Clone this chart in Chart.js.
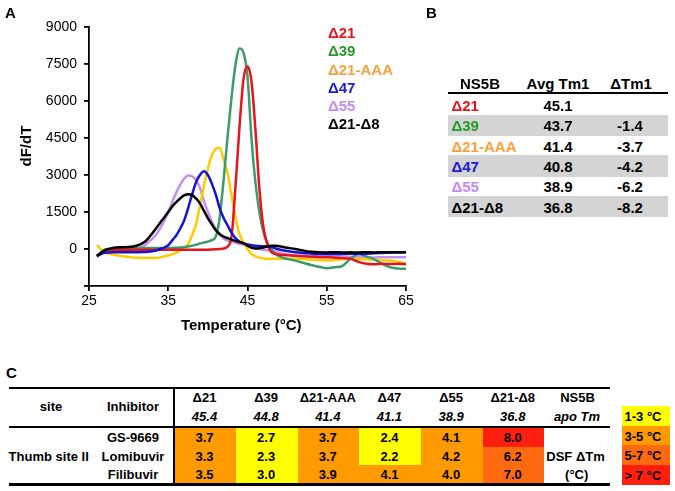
<!DOCTYPE html>
<html><head><meta charset="utf-8">
<script src="https://cdn.jsdelivr.net/npm/chart.js@4.4.1/dist/chart.umd.min.js"></script>
<style>
html,body{margin:0;padding:0;background:#fff;}
body{width:675px;height:491px;overflow:hidden;position:relative;font-family:"Liberation Sans",Arial,sans-serif;font-weight:bold;color:#000;}
.a{position:absolute;white-space:nowrap;line-height:1;}
.r{position:absolute;}
#wrap{position:absolute;left:0;top:0;width:420px;height:345px;}
</style></head><body>
<div id="wrap"><canvas id="c" width="420" height="345"></canvas></div>
<script>
// ---- Panel A data (temperature in °C, dF/dT) ----
const temps = [26,27,28,29,30,31,32,
  32.5,33,33.5,34,34.5,35,35.5,36,36.5,37,
  37.5,38,38.5,39,39.5,40,40.5,41,41.5,42,
  42.5,43,43.5,44,44.5,45,45.5,46,46.5,47,
  47.5,48,48.5,49,
  50,51,52,53,54,55,56,57,58,59,60,61,62,63,64,65];
const d21 = [-280,-80,-30,-30,-30,-30,-30,
  -30,-30,-30,-30,-30,-30,-30,-30,-30,-30,
  -30,-30,-30,-30,-30,-30,-20,-10,0,20,
  100,540,2600,5000,6900,7400,6800,4850,2450,900,
  200,-120,-200,-230,
  -250,-270,-290,-310,-330,-335,-350,-370,-400,-520,-600,-620,-600,-610,-600,-620];
const d39 = [-280,-30,30,40,40,40,40,
  40,40,40,40,40,40,40,50,60,80,
  100,135,170,220,260,300,360,500,1300,2850,
  4600,6200,7500,8130,7950,7000,4500,2700,1500,700,
  250,0,-200,-300,
  -400,-470,-560,-650,-720,-780,-740,-680,-400,-200,-300,-420,-600,-740,-790,-800];
const d21AAA = [150,-135,-220,-280,-320,-355,-365,
  -365,-365,-360,-340,-300,-260,-220,-150,-50,50,
  200,560,1000,1750,2550,3250,3800,4060,4100,3600,
  3050,2150,1250,600,270,0,-200,-300,-350,-390,
  -400,-400,-400,-400,
  -400,-400,-410,-430,-450,-470,-450,-420,-400,-400,-420,-440,-460,-470,-520,-600];
const d47 = [-270,-150,-135,-135,-135,-130,-120,
  -110,-90,-60,0,60,150,350,550,820,1150,
  1650,2200,2700,3000,3150,3000,2650,2200,1650,1250,
  950,650,430,300,230,180,150,130,120,110,
  100,80,30,-20,
  -80,-130,-160,-180,-200,-200,-200,-200,-190,-200,-190,-170,-160,-150,-140,-135];
const d55 = [-335,-100,-90,-90,-60,0,150,
  280,420,600,850,1150,1500,1900,2280,2600,2850,
  2980,2950,2800,2480,1950,1500,1100,820,620,420,
  340,300,250,200,170,150,100,50,0,-30,
  -50,-70,-100,-150,
  -220,-260,-270,-270,-270,-270,-280,-300,-320,-335,-340,-340,-335,-335,-335,-335];
const d21d8 = [-280,-50,40,70,80,130,280,
  440,640,850,1075,1280,1500,1720,1900,2050,2170,
  2220,2180,2050,1850,1550,1250,1000,760,600,500,
  440,380,320,280,240,130,50,20,30,60,
  100,130,135,110,
  50,0,-60,-110,-135,-140,-130,-140,-135,-140,-130,-140,-130,-135,-130,-135];
const seriesNames = ['Δ21','Δ39','Δ21-AAA','Δ47','Δ55','Δ21-Δ8'];
const lineColors  = ['#e8141c','#3d9b6b','#ffcc00','#1414d2','#c490f0','#000000'];
const textColors  = ['#e8141c','#259a25','#f7a23c','#1a1ad0','#c48af5','#000000'];
const yTicks = {min:-1500, max:9000, step:1500};
const xTicks = {min:25, max:65, step:10};

// ---- Panel B data ----
const bAvgTm = ['45.1','43.7','41.4','40.8','38.9','36.8'];
const bDeltaTm = ['','-1.4','-3.7','-4.2','-6.2','-8.2'];

// ---- Panel C data ----
const cApoTm = ['45.4','44.8','41.4','41.1','38.9','36.8'];
const cInhib = ['GS-9669','Lomibuvir','Filibuvir'];
const cShift = [[3.7,2.7,3.7,2.4,4.1,8.0],[3.3,2.3,3.7,2.2,4.2,6.2],[3.5,3.0,3.9,4.1,4.0,7.0]];
const cBins = ['1-3 °C','3-5 °C','5-7 °C','> 7 °C'];
const cBinColors = ['#ffff00','#ff9a00','#ff6a10','#ff1f0f'];

const F = "'Liberation Sans', Arial, sans-serif";
const allSeries = [d21,d39,d21AAA,d47,d55,d21d8];
const drawOrder = [5,3,0,1,2,4]; // first is drawn on top
const datasets = drawOrder.map(i => ({
  label: seriesNames[i],
  data: temps.map((t,k) => ({x:t, y:allSeries[i][k]})),
  borderColor: lineColors[i],
  backgroundColor: lineColors[i],
  borderWidth: 2.5,
  pointRadius: 0,
  fill: false,
  cubicInterpolationMode: 'monotone'
}));

new Chart(document.getElementById('c'), {
  type: 'line',
  data: {datasets},
  options: {
    responsive: false, animation: false,
    layout: {padding: {left:0, top:27, right:14, bottom:0}},
    plugins: {legend:{display:false}, tooltip:{enabled:false}},
    scales: {
      x: {type:'linear', min:xTicks.min, max:xTicks.max,
        ticks:{stepSize:xTicks.step, font:{size:14, family:F}, color:'#000', padding:2},
        grid:{drawOnChartArea:false, drawTicks:true, tickLength:5, color:'#000', lineWidth:1.8},
        border:{display:true, color:'#000', width:1.8},
        title:{display:true, text:'Temperature (°C)   ', color:'#000', font:{size:15, weight:'bold', family:F}, padding:{top:0, bottom:10}},
        afterFit(s){ s.height = 59; }
      },
      y: {type:'linear', min:yTicks.min, max:yTicks.max,
        ticks:{stepSize:yTicks.step, font:{size:14, family:F}, color:'#000', padding:7,
          callback: v => v === yTicks.min ? '' : String(v)},
        grid:{drawOnChartArea:false, drawTicks:true, tickLength:5, color:'#000', lineWidth:1.8},
        border:{display:true, color:'#000', width:1.8},
        title:{display:true, text:'     dF/dT', color:'#000', font:{size:15, weight:'bold', family:F}, padding:{top:18, bottom:0}},
        afterFit(s){ s.width = 89; }
      }
    }
  }
});

// ---- overlay helpers ----
function T(s, x, y, o) {
  o = o || {};
  const d = document.createElement('div');
  d.className = 'a';
  d.textContent = s;
  d.style.left = x + 'px';
  d.style.top = y + 'px';
  d.style.fontSize = (o.size || 13) + 'px';
  if (o.color) d.style.color = o.color;
  if (o.italic) d.style.fontStyle = 'italic';
  const al = o.align || 'c';
  d.style.transform = al === 'c' ? 'translate(-50%,-50%)' : (al === 'r' ? 'translate(-100%,-50%)' : 'translate(0,-50%)');
  document.body.appendChild(d);
}
function R(x, y, w, h, c) {
  const d = document.createElement('div');
  d.className = 'r';
  d.style.left = x + 'px'; d.style.top = y + 'px';
  d.style.width = w + 'px'; d.style.height = h + 'px';
  d.style.background = c;
  document.body.appendChild(d);
}

// Panel labels
T('A', 5, 12, {size:15, align:'l'});
T('B', 426, 12, {size:15, align:'l'});
T('C', 6, 372, {size:15, align:'l'});

// Panel A legend
seriesNames.forEach((n,i) => T(n, 328, 32.3 + i*18.1, {size:15, align:'l', color:textColors[i]}));

// Panel B table
const bRowY = i => 105 + i*20.35;
seriesNames.forEach((n,i) => { if (i % 2 === 1) R(448, bRowY(i)-10.6, 220, 21.2, '#d4d4d4'); });
R(448, 91.8, 220, 2.2, '#000');
T('NS5B', 480, 83, {size:15});
T('Avg Tm1', 558, 83, {size:15});
T('ΔTm1', 631, 83, {size:15});
seriesNames.forEach((n,i) => {
  T(n, 451.5, bRowY(i), {size:15, align:'l', color:textColors[i]});
  T(bAvgTm[i], 558, bRowY(i), {size:15});
  if (bDeltaTm[i]) T(bDeltaTm[i], 630, bRowY(i), {size:15});
});

// Panel C table
const colL = j => 174.5 + j*61.65;
const rowTop = 428, rowH = 18.5;
function binColor(v) { return v <= 3 ? cBinColors[0] : v <= 5 ? cBinColors[1] : v <= 7 ? cBinColors[2] : cBinColors[3]; }
cShift.forEach((row,r) => row.forEach((v,j) => R(colL(j), rowTop + r*rowH, 61.7, rowH + 0.3, binColor(v))));
R(9, 386.7, 601, 2.2, '#000');
R(9, 426, 601, 2.2, '#000');
R(9, 483.4, 601, 2.2, '#000');
R(172.7, 386.7, 2.2, 99, '#000');
T('site', 51, 406);
T('Inhibitor', 133, 406);
seriesNames.forEach((n,j) => {
  T(n, colL(j) + 30, 396.7);
  T(cApoTm[j], colL(j) + 30, 416, {italic:true});
});
T('NS5B', 577.5, 396.7);
T('apo Tm', 577, 416, {italic:true});
T('Thumb site II', 48.7, 455.7);
cInhib.forEach((n,r) => T(n, 133, 436.7 + r*18.8));
cShift.forEach((row,r) => row.forEach((v,j) => T(v.toFixed(1), colL(j) + 30, 436.7 + r*18.8)));
T('DSF ΔTm', 575.5, 455.7);
T('(°C)', 576.7, 474.3);
cBins.forEach((b,i) => {
  R(622.3, 406 + i*19.7, 47.7, 19.9, cBinColors[i]);
  T(b, 624.5, 406 + i*19.7 + 10, {align:'l'});
});
</script>
</body></html>
